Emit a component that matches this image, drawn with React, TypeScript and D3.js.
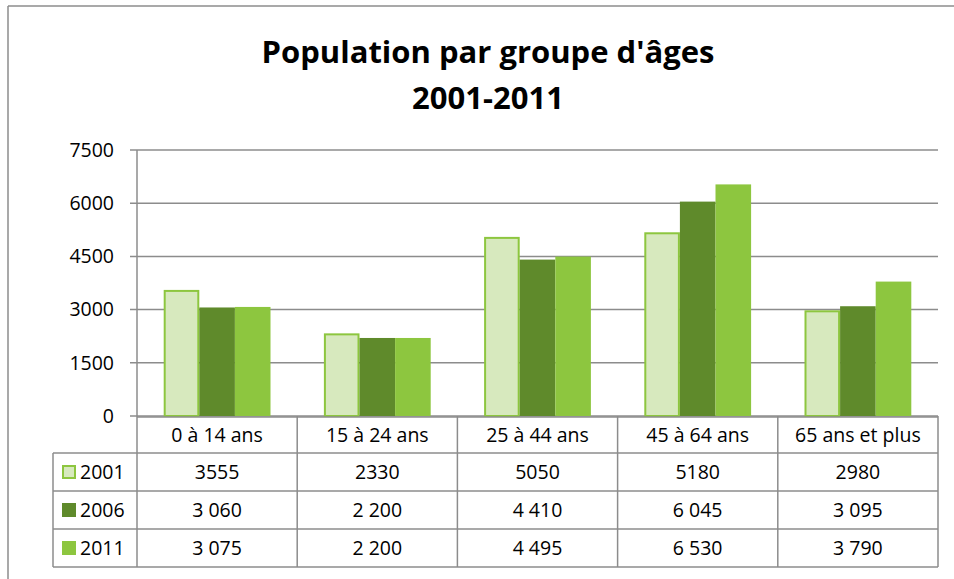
import React from "react";
import * as d3 from "d3";

const categories = ["0 à 14 ans", "15 à 24 ans", "25 à 44 ans", "45 à 64 ans", "65 ans et plus"];
const seriesNames = ["2001", "2006", "2011"];
const values2001 = [3555, 2330, 5050, 5180, 2980];
const values2006 = [3060, 2200, 4410, 6045, 3095];
const values2011 = [3075, 2200, 4495, 6530, 3790];
const labels2001 = ["3555", "2330", "5050", "5180", "2980"];
const labels2006 = ["3 060", "2 200", "4 410", "6 045", "3 095"];
const labels2011 = ["3 075", "2 200", "4 495", "6 530", "3 790"];
const yTicks = [0, 1500, 3000, 4500, 6000, 7500];

const series = [
  { name: seriesNames[0], values: values2001, labels: labels2001, fill: "#d7e9be", stroke: "#8dc63f" },
  { name: seriesNames[1], values: values2006, labels: labels2006, fill: "#5f8a2b", stroke: "none" },
  { name: seriesNames[2], values: values2011, labels: labels2011, fill: "#8dc63f", stroke: "none" },
];

const FONT = "'Open Sans', Calibri, sans-serif";
const FS = 19.5;

export default function App() {
  const W = 954, H = 579;
  const plotL = 137, plotR = 938, plotT = 150, plotB = 416;
  const tableL = 53;
  const rowTops = [417, 453, 491, 529, 567];

  const x = d3.scaleBand<string>().domain(categories).range([plotL, plotR]).paddingInner(0).paddingOuter(0);
  const inner = d3.scaleBand<string>().domain(seriesNames).range([0, x.bandwidth()]).paddingInner(0).paddingOuter(0.75);
  const y = d3.scaleLinear().domain([0, 7500]).range([plotB, plotT]);
  const grid = "#8c8c8c";

  return (
    <svg width={W} height={H} style={{ position: "absolute", left: 0, top: 0, background: "#fff" }}>
      <rect x={0} y={0} width={W} height={H} fill="#fff" />
      <line x1={8} y1={6} x2={W} y2={6} stroke="#8c8c8c" strokeWidth={1.5} />
      <line x1={8} y1={6} x2={8} y2={H} stroke="#8c8c8c" strokeWidth={1.5} />

      <text x={488} y={63} textAnchor="middle" fontFamily={FONT} fontWeight="bold" fontSize={31} fill="#000">
        Population par groupe d'âges
      </text>
      <text x={488} y={109} textAnchor="middle" fontFamily={FONT} fontWeight="bold" fontSize={31} fill="#000">
        2001-2011
      </text>

      {yTicks.map((t) => (
        <g key={t}>
          <line x1={plotL - 7} x2={plotR} y1={y(t)} y2={y(t)} stroke={grid} strokeWidth={1.5} />
          <text x={114} y={y(t)} dy="0.35em" textAnchor="end" fontFamily={FONT} fontSize={FS} fill="#000">
            {t}
          </text>
        </g>
      ))}
      <line x1={plotL} x2={plotL} y1={plotT} y2={rowTops[4]} stroke={grid} strokeWidth={1.5} />

      {series.map((s) =>
        categories.map((c, i) => {
          const bx = (x(c) as number) + (inner(s.name) as number);
          const bw = inner.bandwidth();
          const by = y(s.values[i]);
          const sw = s.stroke === "none" ? 0 : 2;
          return (
            <rect
              key={s.name + c}
              x={bx + sw / 2}
              y={by + sw / 2}
              width={bw - sw}
              height={plotB - by - sw / 2}
              fill={s.fill}
              stroke={s.stroke}
              strokeWidth={sw}
            />
          );
        })
      )}

      <line x1={plotL} x2={plotR} y1={rowTops[0]} y2={rowTops[0]} stroke={grid} strokeWidth={1.5} />
      {rowTops.slice(1).map((ry, k) => (
        <line key={k} x1={tableL} x2={plotR} y1={ry} y2={ry} stroke={grid} strokeWidth={1.5} />
      ))}
      <line x1={tableL} x2={tableL} y1={rowTops[1]} y2={rowTops[4]} stroke={grid} strokeWidth={1.5} />
      {categories.map((c) => (
        <line
          key={"v" + c}
          x1={(x(c) as number) + x.bandwidth()}
          x2={(x(c) as number) + x.bandwidth()}
          y1={plotB}
          y2={rowTops[4]}
          stroke={grid}
          strokeWidth={1.5}
        />
      ))}
      {categories.map((c) => (
        <text
          key={"c" + c}
          x={(x(c) as number) + x.bandwidth() / 2}
          y={(rowTops[0] + rowTops[1]) / 2}
          dy="0.35em"
          textAnchor="middle"
          fontFamily={FONT}
          fontSize={FS}
          fill="#000"
        >
          {c}
        </text>
      ))}
      {series.map((s, r) => {
        const cy = (rowTops[r + 1] + rowTops[r + 2]) / 2;
        return (
          <g key={"row" + s.name}>
            <rect
              x={s.stroke === "none" ? 62 : 63}
              y={cy - 7 + (s.stroke === "none" ? 0 : 1)}
              width={s.stroke === "none" ? 14 : 12}
              height={s.stroke === "none" ? 14 : 12}
              fill={s.fill}
              stroke={s.stroke}
              strokeWidth={s.stroke === "none" ? 0 : 2}
            />
            <text x={80} y={cy} dy="0.35em" fontFamily={FONT} fontSize={FS} fill="#000">
              {s.name}
            </text>
            {categories.map((c, i) => (
              <text
                key={c}
                x={(x(c) as number) + x.bandwidth() / 2}
                y={cy}
                dy="0.35em"
                textAnchor="middle"
                fontFamily={FONT}
                fontSize={FS}
                fill="#000"
              >
                {s.labels[i]}
              </text>
            ))}
          </g>
        );
      })}
    </svg>
  );
}
